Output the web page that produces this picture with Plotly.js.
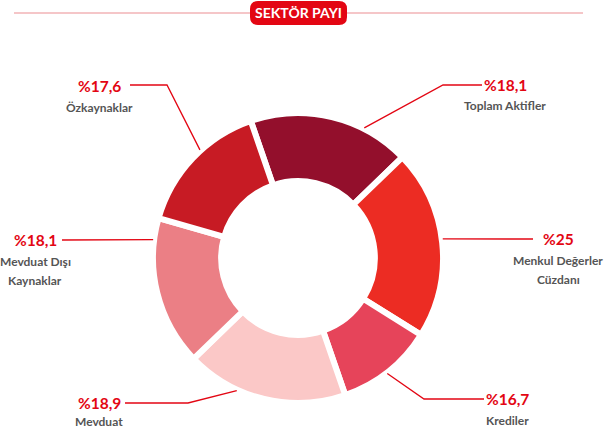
<!DOCTYPE html>
<html>
<head>
<meta charset="utf-8">
<script src="https://cdn.plot.ly/plotly-3.0.1.min.js"></script>
<style>
  html, body { margin: 0; padding: 0; background: #fff; }
  #chart { width: 604px; height: 429px; }
</style>
</head>
<body>
<div id="chart"></div>
<script>
// sektör payı - halka grafik
const W = 604, H = 429;

const categories = ['Toplam Aktifler', 'Menkul Değerler Cüzdanı', 'Krediler', 'Mevduat', 'Mevduat Dışı Kaynaklar', 'Özkaynaklar'];
const shares = ['%18,1', '%25', '%16,7', '%18,9', '%18,1', '%17,6'];
// dilim açıları (derece)
const sliceDeg = [65, 76, 39, 65, 60, 55];
const nameLines = [['Toplam Aktifler'], ['Menkul Değerler', 'Cüzdanı'], ['Krediler'], ['Mevduat'], ['Mevduat Dışı', 'Kaynaklar'], ['Özkaynaklar']];

const COLORS = ['#930f2c', '#ec2c23', '#e6445a', '#fbc8c7', '#eb7f85', '#c71b24'];
const RED = '#e30613';
const GREY = '#555555';
const FONT = 'Lato, "Open Sans", sans-serif';

// pasta geometrisi (px)
const CX = 298, CY = 258, R = 145;

// etiket yerleşimi (px): çizginin başladığı açı, kırılma noktası, bitiş, metin merkezi
const LABEL_POS = [
  { ang: 27,    elbow: [443, 85],  end: [482, 85],  tx: 505, ty: 85 },
  { ang: 82.5,  elbow: null,       end: [533, 239], tx: 558, ty: 239 },
  { ang: 142.3, elbow: [424, 399], end: [484, 399], tx: 507, ty: 399 },
  { ang: 204.8, elbow: [188, 403], end: [125, 403], tx: 99,  ty: 403 },
  { ang: 277.2, elbow: null,       end: [62, 240],  tx: 35,  ty: 240 },
  { ang: 317.8, elbow: [167, 85],  end: [130, 85],  tx: 99,  ty: 86 },
];

const px = x => x / W;
const py = y => 1 - y / H;

function leaderPath(p) {
  const a = p.ang * Math.PI / 180;
  const sx = CX + (R + 1) * Math.sin(a), sy = CY - (R + 1) * Math.cos(a);
  let d = `M${px(sx)},${py(sy)}`;
  if (p.elbow) d += ` L${px(p.elbow[0])},${py(p.elbow[1])}`;
  d += ` L${px(p.end[0])},${py(p.end[1])}`;
  return d;
}

function roundRect(x0, y0, x1, y1, r) {
  return `M${px(x0 + r)},${py(y0)} L${px(x1 - r)},${py(y0)} Q${px(x1)},${py(y0)} ${px(x1)},${py(y0 + r)}` +
    ` L${px(x1)},${py(y1 - r)} Q${px(x1)},${py(y1)} ${px(x1 - r)},${py(y1)}` +
    ` L${px(x0 + r)},${py(y1)} Q${px(x0)},${py(y1)} ${px(x0)},${py(y1 - r)}` +
    ` L${px(x0)},${py(y0 + r)} Q${px(x0)},${py(y0)} ${px(x0 + r)},${py(y0)} Z`;
}

const trace = {
  type: 'pie',
  values: sliceDeg,
  labels: categories,
  sort: false,
  direction: 'clockwise',
  rotation: -19,
  hole: 0.53,
  textinfo: 'none',
  hoverinfo: 'label',
  marker: { colors: COLORS, line: { color: '#ffffff', width: 6 } },
  domain: { x: [px(CX - R), px(CX + R)], y: [py(CY + R), py(CY - R)] },
  showlegend: false,
};

const shapes = [
  { type: 'line', xref: 'paper', yref: 'paper', x0: px(14), x1: px(583), y0: py(13), y1: py(13),
    line: { color: '#ec8d92', width: 1.2 }, layer: 'below' },
  { type: 'path', xref: 'paper', yref: 'paper', path: roundRect(250, 1, 347, 25, 8),
    fillcolor: '#e30613', line: { width: 0 } },
];
LABEL_POS.forEach(p => shapes.push({
  type: 'path', xref: 'paper', yref: 'paper', path: leaderPath(p),
  line: { color: RED, width: 1.3 },
}));

const ann = (x, y, text, font) => ({
  xref: 'paper', yref: 'paper', x: px(x), y: py(y), xanchor: 'center', yanchor: 'middle',
  showarrow: false, text, font,
});

const annotations = [ann(298.5, 13, '<b>SEKTÖR PAYI</b>', { family: FONT, size: 14, color: '#ffffff' })];
shares.forEach((s, i) => {
  const p = LABEL_POS[i];
  annotations.push(ann(p.tx, p.ty, `<b>${s}</b>`, { family: FONT, size: 15.5, color: RED }));
  nameLines[i].forEach((t, k) =>
    annotations.push(ann(p.tx, Math.min(p.ty + 21 + k * 19.5, 421), `<b>${t}</b>`, { family: FONT, size: 12, color: GREY })));
});

const layout = {
  width: W, height: H,
  margin: { l: 0, r: 0, t: 0, b: 0 },
  paper_bgcolor: '#ffffff',
  shapes, annotations,
};

Plotly.newPlot('chart', [trace], layout, { displayModeBar: false, staticPlot: true });
</script>
</body>
</html>
